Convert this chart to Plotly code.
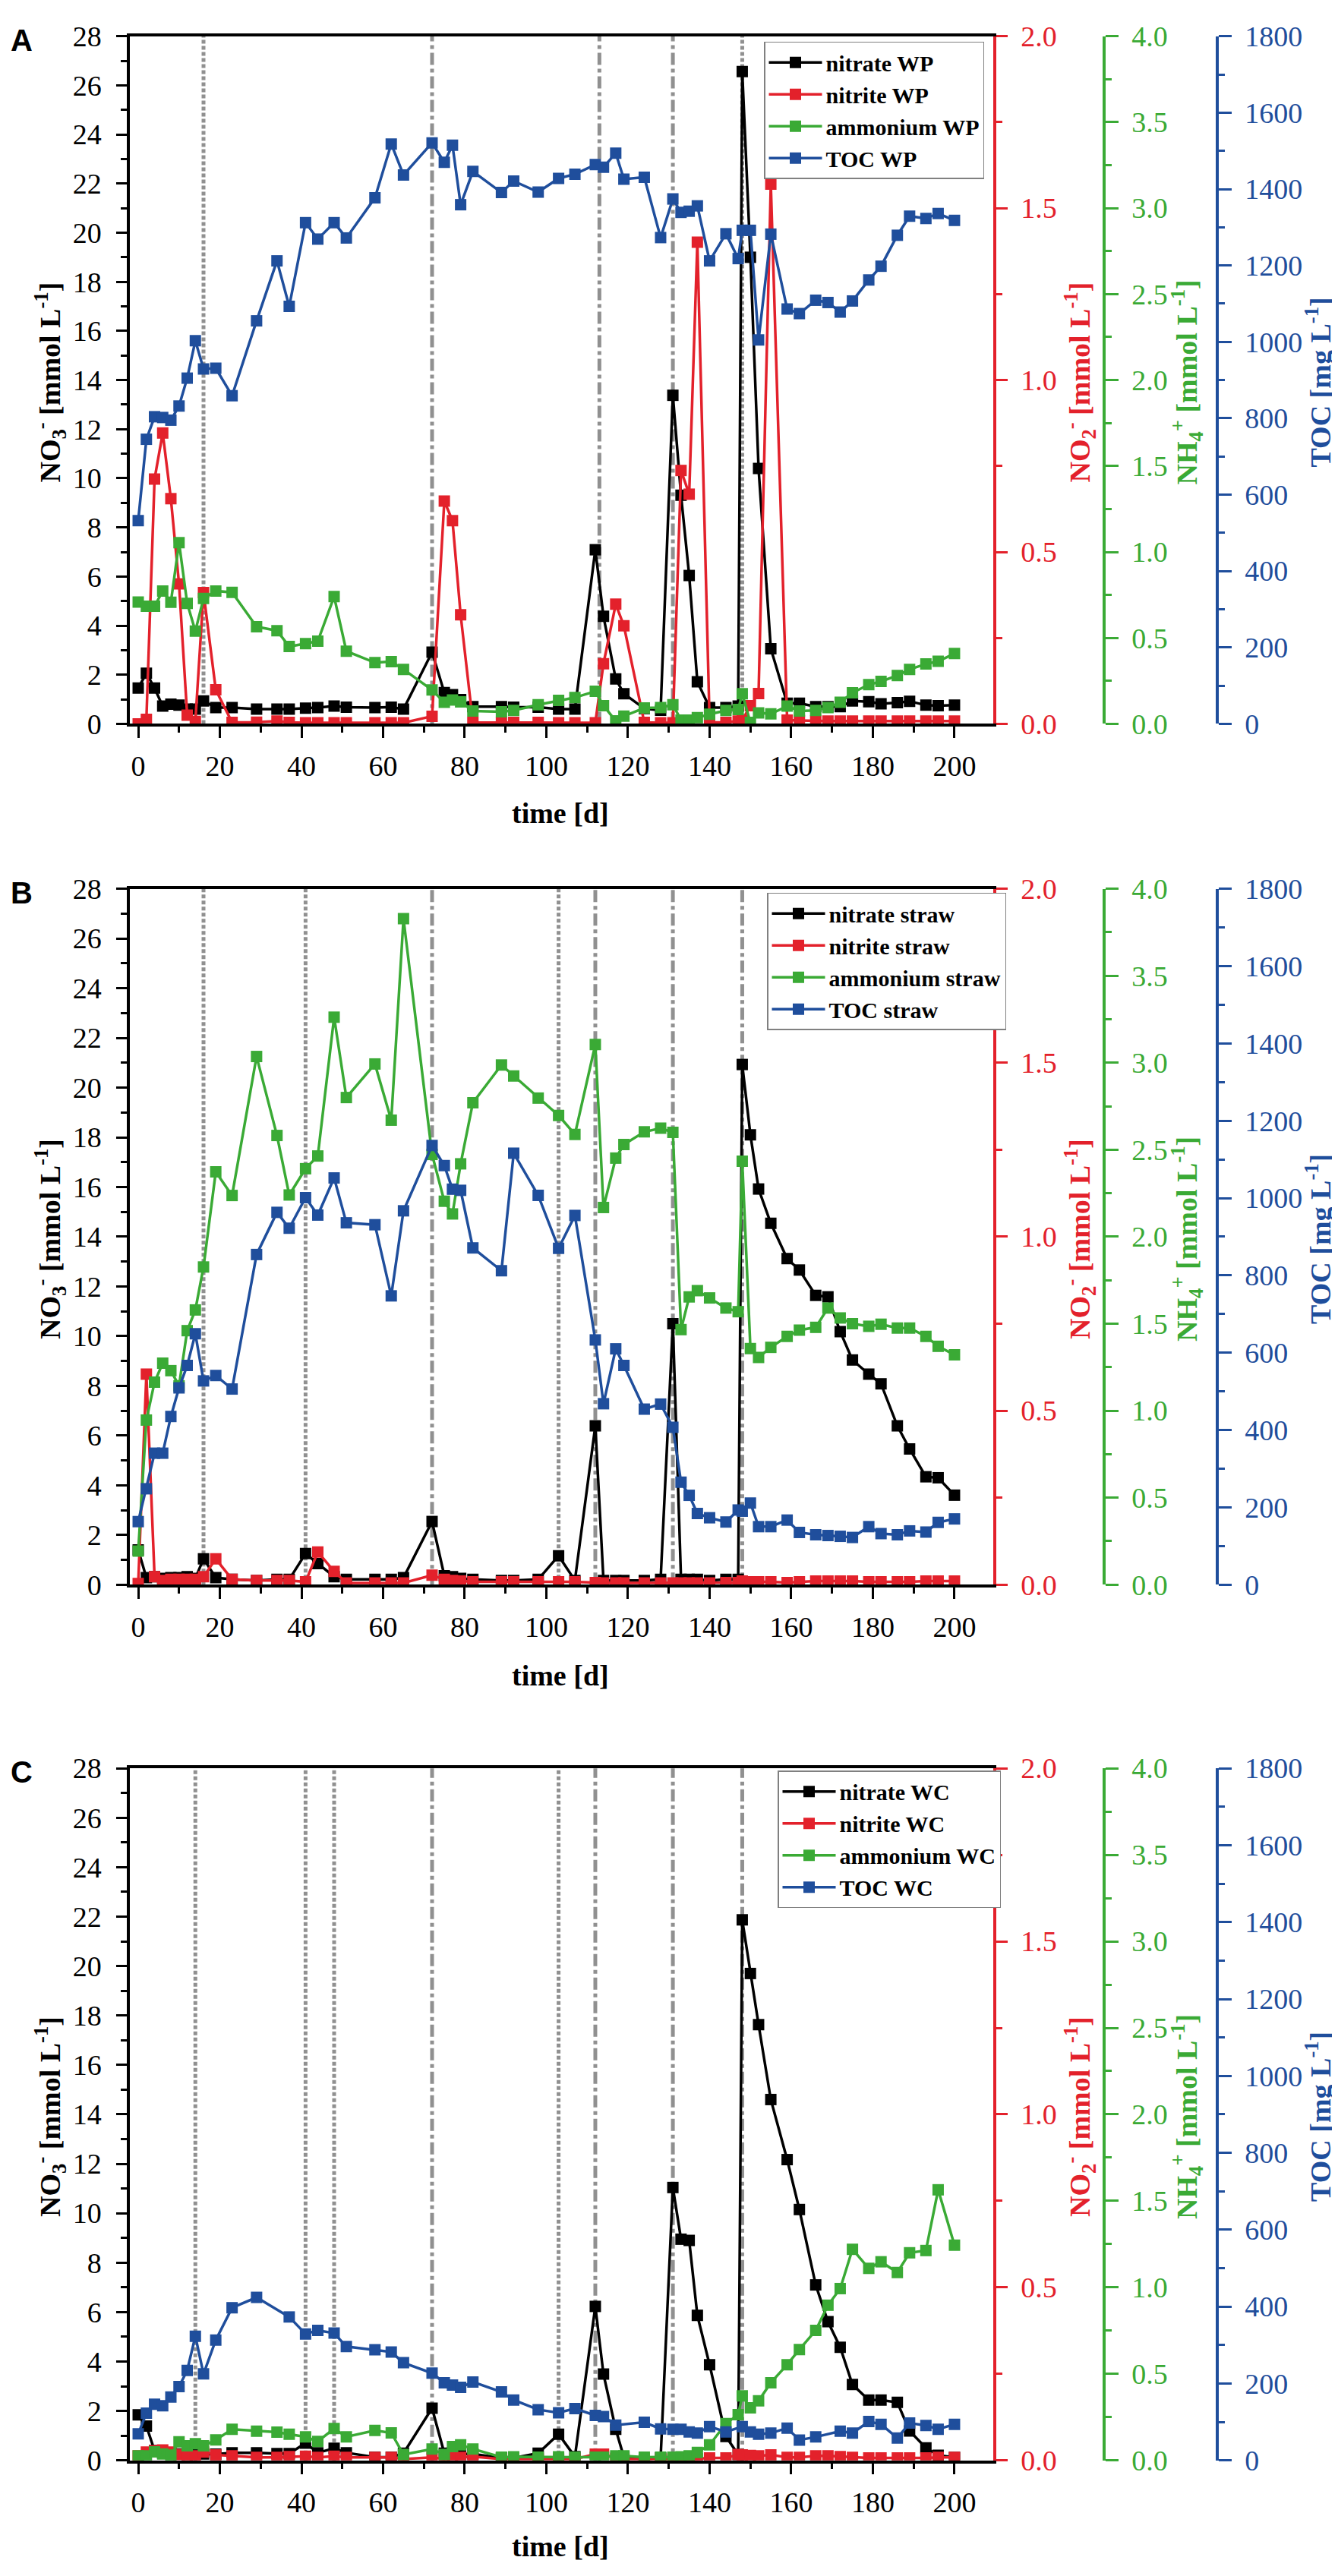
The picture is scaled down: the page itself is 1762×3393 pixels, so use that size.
import plotly.graph_objects as go

# sampling days (same for every series)
days = [0, 2, 4, 6, 8, 10, 12, 14, 16, 19, 23, 29, 34, 37, 41, 44, 48, 51, 58, 62, 65,
        72, 75, 77, 79, 82, 89, 92, 98, 103, 107, 112, 114, 117, 119, 124, 128, 131, 133,
        135, 137, 140, 144, 147, 148, 150, 152, 155, 159, 162, 166, 169, 172, 175, 179,
        182, 186, 189, 193, 196, 200]

# --- A: WP ---
nitrate_wp = [1.46, 2.06, 1.46, 0.72, 0.80, 0.76, 0.60, 0.60, 0.93, 0.66, 0.66, 0.60, 0.60, 0.60,
              0.64, 0.66, 0.72, 0.68, 0.66, 0.68, 0.60, 2.92, 1.27, 1.19, 0.99, 0.70, 0.70, 0.68,
              0.68, 0.60, 0.60, 7.09, 4.38, 1.83, 1.23, 0.62, 0.55, 13.38, 9.31, 6.04, 1.71, 0.66,
              0.66, 0.72, 26.56, 19.0, 10.4, 3.06, 0.84, 0.84, 0.70, 0.70, 0.70, 0.93, 0.90, 0.82,
              0.86, 0.92, 0.76, 0.74, 0.76]
nitrite_wp = [0.0, 0.013, 0.712, 0.846, 0.655, 0.407, 0.025, 0.007, 0.382, 0.099, 0.004, 0.005,
              0.008, 0.004, 0.003, 0.003, 0.003, 0.003, 0.003, 0.003, 0.003, 0.022, 0.648, 0.591,
              0.317, 0.004, 0.004, 0.004, 0.004, 0.003, 0.003, 0.003, 0.175, 0.348, 0.285, 0.004,
              0.003, 0.003, 0.737, 0.668, 1.401, 0.004, 0.004, 0.008, 0.010, 0.053, 0.088, 1.570,
              0.011, 0.010, 0.008, 0.008, 0.008, 0.008, 0.008, 0.008, 0.008, 0.008, 0.008, 0.008,
              0.008]
ammonium_wp = [0.709, 0.684, 0.684, 0.773, 0.707, 1.054, 0.701, 0.540, 0.729, 0.773, 0.765, 0.565,
               0.542, 0.450, 0.467, 0.481, 0.740, 0.423, 0.356, 0.362, 0.317, 0.197, 0.125, 0.139,
               0.128, 0.075, 0.070, 0.078, 0.111, 0.136, 0.153, 0.189, 0.106, 0.017, 0.045, 0.092,
               0.095, 0.111, 0.022, 0.022, 0.036, 0.056, 0.078, 0.083, 0.175, 0.008, 0.064, 0.058,
               0.103, 0.075, 0.078, 0.095, 0.125, 0.181, 0.228, 0.247, 0.281, 0.317, 0.348, 0.364,
               0.409]
toc_wp = [532, 745, 804, 802, 795, 832, 905, 1003, 929, 931, 859, 1055, 1212, 1093, 1312, 1269,
          1312, 1272, 1377, 1518, 1437, 1521, 1470, 1515, 1359, 1446, 1391, 1421, 1392, 1428,
          1439, 1464, 1457, 1494, 1426, 1431, 1273, 1374, 1339, 1342, 1356, 1212, 1283, 1218,
          1292, 1292, 1005, 1282, 1086, 1074, 1109, 1103, 1078, 1107, 1162, 1198, 1279, 1329,
          1323, 1336, 1318]
dotted_wp = [16, 148]
dashdot_wp = [72, 113, 131]

# --- B: straw ---
nitrate_straw = [1.40, 0.28, 0.32, 0.25, 0.28, 0.28, 0.32, 0.25, 1.04, 0.28, 0.21, 0.17, 0.21, 0.21,
                 1.25, 0.85, 0.32, 0.21, 0.21, 0.21, 0.28, 2.54, 0.36, 0.32, 0.25, 0.21, 0.17, 0.17,
                 0.21, 1.16, 0.17, 6.39, 0.17, 0.17, 0.17, 0.17, 0.21, 10.50, 0.21, 0.21, 0.21, 0.17,
                 0.21, 0.21, 20.93, 18.1, 15.92, 14.54, 13.12, 12.66, 11.64, 11.58, 10.18, 9.04,
                 8.47, 8.08, 6.39, 5.46, 4.34, 4.30, 3.60]
nitrite_straw = [0.003, 0.605, 0.023, 0.012, 0.015, 0.015, 0.015, 0.015, 0.023, 0.074, 0.015, 0.012,
                 0.012, 0.012, 0.008, 0.094, 0.038, 0.005, 0.005, 0.005, 0.005, 0.027, 0.015, 0.012,
                 0.010, 0.008, 0.008, 0.008, 0.008, 0.008, 0.008, 0.006, 0.005, 0.005, 0.005, 0.005,
                 0.005, 0.005, 0.005, 0.005, 0.005, 0.005, 0.006, 0.006, 0.010, 0.008, 0.008, 0.008,
                 0.006, 0.008, 0.010, 0.010, 0.010, 0.010, 0.008, 0.008, 0.008, 0.008, 0.010, 0.010,
                 0.010]
ammonium_straw = [0.193, 0.946, 1.164, 1.273, 1.230, 1.143, 1.460, 1.579, 1.826, 2.373, 2.237, 3.036,
                  2.582, 2.240, 2.391, 2.464, 3.262, 2.800, 2.993, 2.670, 3.828, 2.473, 2.204, 2.131,
                  2.419, 2.770, 2.987, 2.924, 2.797, 2.697, 2.588, 3.105, 2.168, 2.452, 2.530, 2.603,
                  2.624, 2.600, 1.466, 1.654, 1.690, 1.648, 1.590, 1.569, 2.434, 1.357, 1.306, 1.364,
                  1.427, 1.463, 1.479, 1.590, 1.533, 1.500, 1.485, 1.497, 1.475, 1.475, 1.427, 1.370,
                  1.321]
toc_straw = [163, 248, 340, 340, 435, 509, 567, 649, 527, 541, 506, 854, 963, 922, 1001, 956, 1052,
             936, 931, 747, 967, 1136, 1084, 1023, 1020, 871, 812, 1116, 1007, 870, 955, 633, 468,
             610, 567, 454, 467, 407, 265, 231, 184, 173, 162, 193, 190, 211, 150, 150, 167, 135,
             129, 127, 125, 122, 150, 132, 129, 139, 136, 161, 170]
dotted_straw = [16, 41, 103]
dashdot_straw = [72, 112, 131, 148]

# --- C: WC ---
nitrate_wc = [1.84, 1.39, 0.40, 0.30, 0.28, 0.26, 0.26, 0.26, 0.26, 0.25, 0.31, 0.31, 0.28, 0.28,
              0.70, 0.31, 0.49, 0.31, 0.13, 0.13, 0.29, 2.11, 0.29, 0.31, 0.26, 0.26, 0.10, 0.10,
              0.29, 1.06, 0.15, 6.23, 3.49, 1.26, 0.13, 0.05, 0.10, 11.04, 8.95, 8.90, 5.87, 3.87,
              0.97, 0.24, 21.87, 19.70, 17.63, 14.60, 12.17, 10.15, 7.10, 5.61, 4.58, 3.07, 2.44,
              2.44, 2.35, 1.19, 0.51, 0.21, 0.12]
nitrite_wc = [0.013, 0.024, 0.028, 0.030, 0.024, 0.017, 0.013, 0.013, 0.024, 0.016, 0.013, 0.009,
              0.009, 0.011, 0.012, 0.009, 0.012, 0.009, 0.009, 0.009, 0.004, 0.009, 0.004, 0.011,
              0.009, 0.011, 0.004, 0.004, 0.004, 0.004, 0.004, 0.018, 0.018, 0.006, 0.004, 0.004,
              0.004, 0.004, 0.004, 0.004, 0.005, 0.007, 0.007, 0.017, 0.016, 0.014, 0.013, 0.016,
              0.009, 0.009, 0.013, 0.013, 0.011, 0.009, 0.007, 0.007, 0.007, 0.007, 0.007, 0.009,
              0.009]
ammonium_wc = [0.026, 0.026, 0.049, 0.037, 0.031, 0.107, 0.084, 0.096, 0.084, 0.119, 0.180, 0.169,
               0.163, 0.151, 0.136, 0.110, 0.184, 0.136, 0.173, 0.159, 0.034, 0.066, 0.034, 0.080,
               0.090, 0.066, 0.019, 0.021, 0.019, 0.021, 0.019, 0.019, 0.019, 0.026, 0.026, 0.019,
               0.019, 0.019, 0.021, 0.026, 0.046, 0.090, 0.213, 0.264, 0.373, 0.304, 0.344, 0.449,
               0.553, 0.641, 0.751, 0.897, 0.993, 1.220, 1.110, 1.148, 1.086, 1.200, 1.213, 1.564,
               1.244]
toc_wc = [69, 123, 146, 142, 165, 192, 234, 323, 225, 313, 397, 424, None, 373, 329, 338, 331, 296,
          288, 282, 254, 227, 202, 196, 190, 204, 178, 157, 132, 124, 135, 117, 114, 92, None, 99,
          82, 81, 81, 74, 71, 88, 74, None, 88, 74, 68, 71, 84, 53, 61, None, 76, 71, 101, 94, 58,
          97, 91, 81, 94]
dotted_wc = [14, 41, 48, 103]
dashdot_wc = [72, 112, 131, 148]

BLACK = "#000000"
RED = "#e3212b"
GREEN = "#3aaa35"
BLUE = "#1f4e9c"
GREY = "#909090"
SERIF = "Liberation Serif, Times New Roman, serif"

W, H = 1762, 3393
x_left, x_right = 163, 1300          # plot box in px
green_pos, blue_pos = 1446, 1595    # free axes in px

panels = [
    dict(letter="A", tag="WP", top=19, bottom=936, title_y=1055, legend_x=998, legend_top=26,
         series=[nitrate_wp, nitrite_wp, ammonium_wp, toc_wp], dotted=dotted_wp, dashdot=dashdot_wp),
    dict(letter="B", tag="straw", top=1156, bottom=2084, title_y=2205, legend_x=1002, legend_top=1161,
         series=[nitrate_straw, nitrite_straw, ammonium_straw, toc_straw], dotted=dotted_straw,
         dashdot=dashdot_straw),
    dict(letter="C", tag="WC", top=2329, bottom=3252, title_y=3367, legend_x=1016, legend_top=2332,
         series=[nitrate_wc, nitrite_wc, ammonium_wc, toc_wc], dotted=dotted_wc, dashdot=dashdot_wc),
]

names = ["nitrate", "nitrite", "ammonium", "TOC"]
colors = [BLACK, RED, GREEN, BLUE]
ranges = [[0, 28], [0, 2], [0, 4], [0, 1800]]
dticks = [2, 0.5, 0.5, 200]
minors = [1, 0.25, 0.25, 100]
titles = ["NO<sub>3</sub><sup>-</sup> [mmol L<sup>-1</sup>]",
          "NO<sub>2</sub><sup>-</sup> [mmol L<sup>-1</sup>]",
          "NH<sub>4</sub><sup>+</sup> [mmol L<sup>-1</sup>]",
          "TOC [mg L<sup>-1</sup>]"]
title_x = [58, 1414, 1555, 1728]

fig = go.Figure()
layout = dict(width=W, height=H, margin=dict(l=0, r=0, t=0, b=0),
              paper_bgcolor="white", plot_bgcolor="white", shapes=[], annotations=[])


def px_x(v):
    return v / W


def px_y(v):
    return 1 - v / H


for i, p in enumerate(panels):
    n = i + 1
    xname = "x" if n == 1 else f"x{n}"
    xkey = "xaxis" if n == 1 else f"xaxis{n}"
    ynums = [4 * i + k + 1 for k in range(4)]
    ynames = ["y" if m == 1 else f"y{m}" for m in ynums]
    ykeys = ["yaxis" if m == 1 else f"yaxis{m}" for m in ynums]
    dom = [px_y(p["bottom"]), px_y(p["top"])]
    legkey = "legend" if n == 1 else f"legend{n}"

    layout[xkey] = dict(
        domain=[px_x(x_left), px_x(x_right)], range=[-2.05, 209.5], anchor=ynames[0],
        tick0=0, dtick=20, ticks="outside", ticklen=15, tickwidth=3, tickcolor=BLACK,
        minor=dict(dtick=10, ticks="outside", ticklen=8, tickwidth=3, tickcolor=BLACK),
        showline=True, linewidth=3.5, linecolor=BLACK, mirror=True, showgrid=False, zeroline=False,
        tickfont=dict(family=SERIF, size=38, color=BLACK), ticklabelstandoff=4)

    for k in range(4):
        ax = dict(range=ranges[k], dtick=dticks[k], tick0=0, ticks="outside", ticklen=15,
                  tickwidth=3, tickcolor=colors[k], showline=True, linewidth=3.5,
                  linecolor=colors[k], showgrid=False, zeroline=False,
                  minor=dict(dtick=minors[k], ticks="outside", ticklen=8, tickwidth=3,
                             tickcolor=colors[k]),
                  tickfont=dict(family=SERIF, size=38, color=colors[k]), ticklabelstandoff=10)
        if k == 0:
            ax.update(domain=dom, anchor=xname, side="left", ticklen=14, ticklabelstandoff=12)
        else:
            ax.update(overlaying=ynames[0], side="right", tickformat=".1f" if k < 3 else "d")
            if k == 1:
                ax.update(anchor=xname)
            else:
                ax.update(anchor="free", position=px_x(green_pos if k == 2 else blue_pos),
                          ticklen=17)
        layout[ykeys[k]] = ax

        fig.add_trace(go.Scatter(
            x=days, y=p["series"][k], name=f"{names[k]} {p['tag']}", mode="lines+markers",
            connectgaps=True, xaxis=xname, yaxis=ynames[k], legend=legkey,
            line=dict(color=colors[k], width=3.5),
            marker=dict(symbol="square", size=15, color=colors[k])))

        layout["annotations"].append(dict(
            text=titles[k], xref="paper", yref="paper", x=px_x(title_x[k]),
            y=px_y((p["top"] + p["bottom"]) / 2 + 3), xanchor="center", yanchor="middle",
            textangle=-90, showarrow=False,
            font=dict(family=SERIF, size=38, color=colors[k], weight="bold")))

    layout[legkey] = dict(
        x=px_x(p["legend_x"]), y=px_y(p["legend_top"]), xanchor="left", yanchor="top",
        bgcolor="white", bordercolor="#808080", borderwidth=1.5, itemwidth=70,
        tracegroupgap=0, font=dict(family=SERIF, size=30, color=BLACK, weight="bold"))

    for d in p["dotted"]:
        layout["shapes"].append(dict(type="line", xref=xname, yref=f"{ynames[0]} domain",
                                     x0=d, x1=d, y0=0, y1=1, layer="below",
                                     line=dict(color=GREY, width=5, dash="5px,3px")))
    for d in p["dashdot"]:
        layout["shapes"].append(dict(type="line", xref=xname, yref=f"{ynames[0]} domain",
                                     x0=d, x1=d, y0=0, y1=1, layer="below",
                                     line=dict(color=GREY, width=5, dash="16px,5px,5px,5px")))

    layout["annotations"].append(dict(
        text="time [d]", xref="paper", yref="paper", x=px_x(730), y=px_y(p["title_y"]),
        xanchor="center", yanchor="middle", showarrow=False,
        font=dict(family=SERIF, size=38, color=BLACK, weight="bold")))
    layout["annotations"].append(dict(
        text=p["letter"], xref="paper", yref="paper", x=px_x(4), y=px_y(p["top"] + 5),
        xanchor="left", yanchor="middle", showarrow=False,
        font=dict(family="Liberation Sans, Arial, sans-serif", size=40, color=BLACK,
                  weight="bold")))

fig.update_layout(**layout)
fig.write_html("out.html")
